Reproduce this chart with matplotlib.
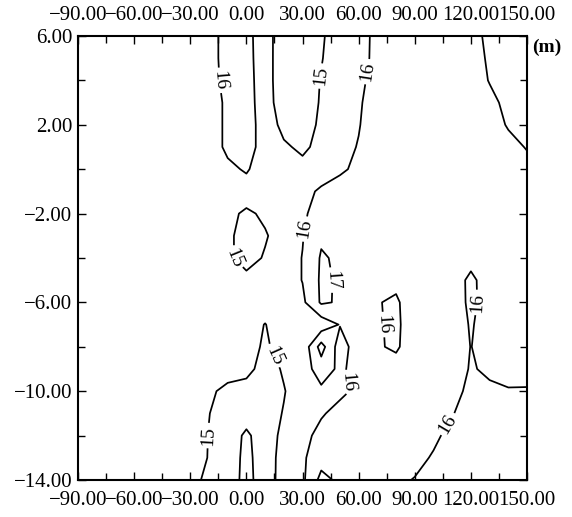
import numpy as np
import matplotlib
matplotlib.use("Agg")
import matplotlib.pyplot as plt
from matplotlib.ticker import MultipleLocator, FixedLocator, FuncFormatter

# distance along the section (columns) and depth in m (rows, top to bottom)
dist = [-90, -80, -70, -60, -50, -40, -30, -20, -10, 0, 10, 20, 30,
        40, 50, 60, 70, 80, 90, 100, 110, 120, 130, 140, 150]
depth = [6, 5, 4, 3, 2, 1, 0, -1, -2, -3, -4, -5, -6, -7,
         -8, -9, -10, -11, -12, -13, -14]

# temperature, one row per depth
temp = [
    [15.5, 15.5, 15.5, 15.5, 15.5, 15.5, 15.5, 15.5, 16.5, 16.27, 15.5, 14.31, 14.4, 14.88, 15.5, 15.6, 16.27, 16.5, 16.5, 16.6, 16.7, 16.85, 17.1, 17.3, 17.4],
    [15.5, 15.5, 15.5, 15.5, 15.5, 15.5, 15.5, 15.5, 16.5, 16.3, 15.5, 14.3, 14.4, 14.95, 15.5, 15.6, 16.3, 16.5, 16.5, 16.6, 16.7, 16.85, 17.05, 17.25, 17.35],
    [15.5, 15.5, 15.5, 15.5, 15.5, 15.5, 15.5, 15.5, 16.4, 16.35, 15.5, 14.3, 14.4, 15.05, 15.5, 15.75, 16.4, 16.5, 16.5, 16.6, 16.7, 16.8, 17.02, 17.2, 17.3],
    [15.5, 15.5, 15.5, 15.5, 15.5, 15.5, 15.5, 15.5, 16.2, 16.4, 15.5, 14.4, 14.4, 15.1, 15.5, 15.9, 16.4, 16.5, 16.5, 16.6, 16.65, 16.75, 16.9, 17.1, 17.2],
    [15.5, 15.5, 15.5, 15.5, 15.5, 15.5, 15.5, 15.5, 16.2, 16.4, 15.6, 14.7, 14.5, 15.2, 15.6, 15.95, 16.5, 16.6, 16.6, 16.6, 16.65, 16.7, 16.85, 17.03, 17.15],
    [15.5, 15.5, 15.5, 15.5, 15.5, 15.5, 15.5, 15.5, 16.2, 16.4, 15.6, 15.15, 14.8, 15.3, 15.7, 16.05, 16.5, 16.6, 16.6, 16.6, 16.65, 16.7, 16.8, 16.9, 17.02],
    [15.5, 15.5, 15.5, 15.5, 15.5, 15.5, 15.5, 15.5, 15.8, 16.1, 15.5, 15.4, 15.3, 15.5, 15.85, 16.2, 16.5, 16.6, 16.6, 16.6, 16.6, 16.7, 16.75, 16.8, 16.9],
    [15.5, 15.5, 15.5, 15.5, 15.5, 15.5, 15.5, 15.5, 15.5, 15.6, 15.5, 15.5, 15.7, 16.15, 16.4, 16.5, 16.5, 16.6, 16.6, 16.6, 16.6, 16.7, 16.7, 16.8, 16.8],
    [15.5, 15.5, 15.5, 15.5, 15.5, 15.5, 15.5, 15.5, 15.3, 14.8, 15.2, 15.5, 15.85, 16.4, 16.5, 16.5, 16.5, 16.5, 16.5, 16.5, 16.5, 16.5, 16.6, 16.6, 16.6],
    [15.5, 15.5, 15.5, 15.5, 15.5, 15.5, 15.5, 15.5, 15.2, 14.6, 14.9, 15.5, 15.95, 16.85, 16.5, 16.5, 16.5, 16.5, 16.5, 16.5, 16.5, 16.5, 16.5, 16.5, 16.5],
    [15.5, 15.5, 15.5, 15.5, 15.5, 15.5, 15.5, 15.5, 15.2, 14.6, 15.1, 15.5, 16.03, 17.1, 16.85, 16.6, 16.5, 16.4, 16.5, 16.5, 16.5, 16.3, 16.5, 16.5, 16.5],
    [15.5, 15.5, 15.5, 15.5, 15.5, 15.5, 15.5, 15.5, 15.5, 15.3, 15.5, 15.5, 16.03, 17.15, 16.9, 16.6, 16.4, 16.25, 16.5, 16.5, 16.45, 15.8, 16.45, 16.5, 16.5],
    [15.5, 15.5, 15.5, 15.5, 15.5, 15.5, 15.5, 15.5, 15.5, 15.4, 15.5, 15.5, 15.8, 17.13, 16.9, 16.5, 16.05, 15.85, 16.6, 16.6, 16.5, 15.8, 16.4, 16.5, 16.5],
    [15.5, 15.5, 15.5, 15.5, 15.5, 15.5, 15.5, 15.5, 15.5, 15.4, 14.97, 15.5, 15.6, 15.4, 16.05, 16.5, 16.1, 15.8, 16.6, 16.6, 16.5, 15.92, 16.4, 16.5, 16.5],
    [15.5, 15.5, 15.5, 15.5, 15.5, 15.5, 15.5, 15.5, 15.5, 15.4, 14.85, 15.4, 15.3, 17.4, 15.5, 16.56, 16.1, 15.85, 16.6, 16.6, 16.5, 15.98, 16.4, 16.5, 16.5],
    [15.5, 15.5, 15.5, 15.5, 15.5, 15.5, 15.5, 15.5, 15.5, 15.3, 14.6, 15.1, 15.5, 16.5, 15.8, 16.4, 16.5, 16.4, 16.5, 16.5, 16.6, 15.9, 16.2, 16.4, 16.35],
    [15.5, 15.5, 15.5, 15.5, 15.5, 15.5, 15.5, 15.2, 14.7, 14.6, 14.6, 14.95, 15.5, 15.8, 15.8, 16.2, 16.5, 16.5, 16.5, 16.5, 16.4, 15.7, 15.8, 15.92, 15.92],
    [15.5, 15.5, 15.5, 15.5, 15.5, 15.5, 15.5, 15.02, 14.6, 14.5, 14.6, 15.05, 15.6, 15.9, 16.3, 16.5, 16.5, 16.5, 16.5, 16.5, 16.05, 15.6, 15.7, 15.8, 15.85],
    [15.5, 15.5, 15.5, 15.5, 15.5, 15.5, 15.5, 14.97, 14.6, 13.8, 14.6, 15.2, 15.7, 16.3, 16.5, 16.5, 16.5, 16.5, 16.5, 16.2, 15.7, 15.6, 15.7, 15.75, 15.8],
    [15.5, 15.5, 15.5, 15.5, 15.5, 15.5, 15.5, 14.95, 14.6, 13.7, 14.6, 15.3, 15.85, 16.6, 16.6, 16.5, 16.5, 16.5, 16.3, 15.9, 15.6, 15.6, 15.7, 15.75, 15.8],
    [15.5, 15.5, 15.5, 15.5, 15.5, 15.5, 15.4, 14.7, 14.5, 13.7, 14.5, 15.4, 15.8, 17.3, 16.8, 16.5, 16.4, 16.2, 15.95, 15.7, 15.6, 15.6, 15.7, 15.7, 15.8],
]
plain_levels = [14]
labelled = [15, 16, 17]
x_ticks = [-90, -60, -30, 0, 30, 60, 90, 120, 150]
y_ticks = [6, 2, -2, -6, -10, -14]

# where the isoline numbers sit
label_spots = [(-14.5, 4.0), (39.3, 4.2), (64, 4.4), (31.5, -2.7), (45.5, -5.0),
               (55, -9.6), (-6.7, -4.0), (73, -7.0), (123, -6.0), (108, -11.5),
               (17.5, -8.3), (-20.5, -12.0)]

plt.rcParams["font.family"] = ["Liberation Serif", "DejaVu Serif"]
plt.rcParams["axes.unicode_minus"] = True

fig = plt.figure(figsize=(5.72, 5.17), dpi=100)
ax = fig.add_axes([0.1364, 0.0716, 0.785, 0.8588])

X, Y = np.meshgrid(dist, depth[::-1])
Z = np.flipud(np.array(temp))
ax.contour(X, Y, Z, levels=plain_levels, colors="black", linewidths=1.25)
cs = ax.contour(X, Y, Z, levels=labelled, colors="black", linewidths=1.25)
ax.clabel(cs, manual=label_spots, inline=True, fmt="%d",
          fontsize=14, inline_spacing=3)

ax.set_xlim(-90, 150)
ax.set_ylim(-14, 6)


def fmt(v, pos):
    s = "%.2f" % abs(v)
    return ("\u2212" + s) if v < 0 else s


ax.xaxis.set_major_locator(FixedLocator(x_ticks))
ax.xaxis.set_minor_locator(MultipleLocator(15))
ax.yaxis.set_major_locator(FixedLocator(y_ticks))
ax.yaxis.set_minor_locator(MultipleLocator(2))
ax.xaxis.set_major_formatter(FuncFormatter(fmt))
ax.yaxis.set_major_formatter(FuncFormatter(fmt))
ax.tick_params(which="both", direction="in", top=True, right=True,
               labeltop=True, labelsize=15, width=1.0)
ax.tick_params(axis="x", which="both", pad=8)
ax.tick_params(axis="y", which="both", pad=4)
ax.tick_params(which="major", length=6)
ax.tick_params(which="minor", length=5)
for s in ax.spines.values():
    s.set_linewidth(1.5)

ax.text(1.012, 0.975, "(m)", transform=ax.transAxes, fontsize=14,
        fontweight="bold", ha="left", va="center")

fig.savefig("out.png", dpi=100)
